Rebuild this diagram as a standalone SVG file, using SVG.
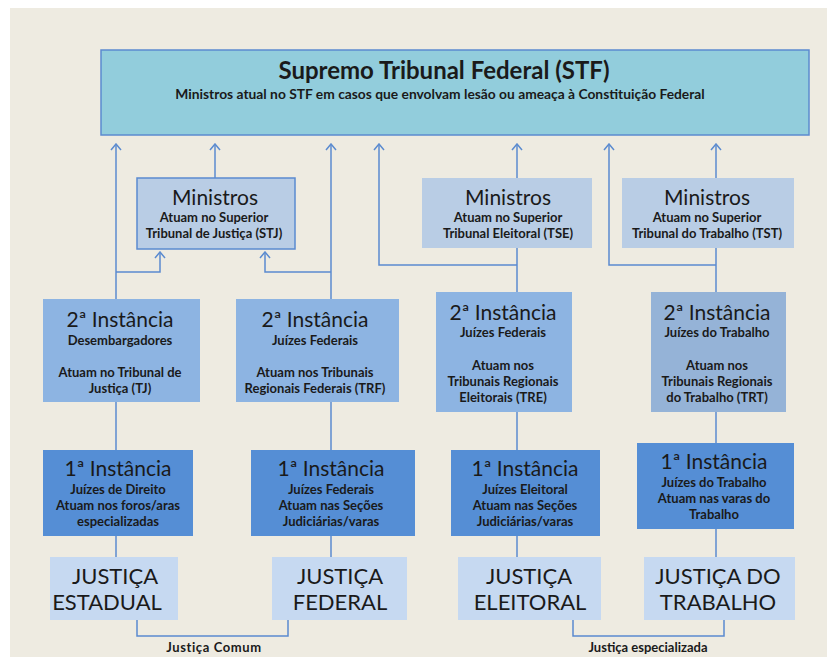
<svg xmlns="http://www.w3.org/2000/svg" width="827" height="657" viewBox="0 0 827 657">
  <defs>
    <marker id="arrow" viewBox="-7 -6 8 12" markerWidth="8" markerHeight="12" refX="0" refY="0" orient="auto" markerUnits="userSpaceOnUse">
      <path d="M-6,-5 L0,0 L-6,5" fill="none" stroke="#5B8BCF" stroke-width="1.5"/>
    </marker>
    <style>
      text { font-family: Lato, "Open Sans", "Liberation Sans", sans-serif; fill: #1a1a1a; text-anchor: middle; }
      .title { font-size: 24px; font-weight: bold; }
      .sub { font-size: 13.8px; font-weight: bold; }
      .head { font-size: 21px; }
      .big { font-size: 21px; }
      .jus { font-size: 22px; }
      .small { font-size: 13px; font-weight: bold; }
      .lbl { font-size: 13px; font-weight: bold; }
      .line { fill: none; stroke: #5B8BCF; stroke-width: 1.5; }
      .arr { marker-end: url(#arrow); }
      .stf { fill: #92CDDC; stroke: #5B8BCF; stroke-width: 1.5; }
      .min { fill: #B9CDE5; }
      .min-b { fill: #B9CDE5; stroke: #5B8BCF; stroke-width: 1.5; }
      .i2 { fill: #8DB4E2; }
      .i2g { fill: #95B3D7; }
      .i1 { fill: #558ED5; }
      .just { fill: #C6D9F1; }
    </style>
  </defs>

  <!-- page -->
  <rect x="0" y="0" width="827" height="657" fill="#ffffff"/>
  <rect x="10" y="8" width="817" height="649" fill="#EEEBE1"/>

  <!-- connectors -->
  <g id="connectors">
    <path class="line arr" d="M116,299 V144"/>
    <path class="line arr" d="M116,272 H160 V252"/>
    <path class="line arr" d="M331,299 V144"/>
    <path class="line arr" d="M331,272 H265 V252"/>
    <path class="line arr" d="M215,178 V144"/>
    <path class="line arr" d="M517,178 V144"/>
    <path class="line" d="M517,248 V292"/>
    <path class="line arr" d="M517,265 H379 V144"/>
    <path class="line arr" d="M716,178 V144"/>
    <path class="line" d="M716,248 V292"/>
    <path class="line arr" d="M716,265 H609 V144"/>
    <path class="line" d="M116,402 V450"/>
    <path class="line" d="M331,402 V450"/>
    <path class="line" d="M517,412 V450"/>
    <path class="line" d="M716,412 V443"/>
    <path class="line" d="M116,536 V557"/>
    <path class="line" d="M331,536 V557"/>
    <path class="line" d="M517,536 V557"/>
    <path class="line" d="M716,529 V557"/>
    <path class="line" d="M137,620 V636 H288 V620"/>
    <path class="line" d="M573,620 V636 H724 V620"/>
  </g>

  <!-- Supremo Tribunal Federal -->
  <g id="stf">
    <rect class="stf" x="101" y="50" width="708" height="85"/>
    <text class="title" x="444" y="79">Supremo Tribunal Federal (STF)</text>
    <text class="sub" x="440" y="99">Ministros atual no STF em casos que envolvam lesão ou ameaça à Constituição Federal</text>
  </g>

  <!-- Ministros -->
  <g id="min-stj">
    <rect class="min-b" x="137" y="178" width="158" height="71"/>
    <text class="head" x="215" y="205">Ministros</text>
    <text class="small" x="214" y="222">Atuam no Superior</text>
    <text class="small" x="214" y="238">Tribunal de Justiça (STJ)</text>
  </g>
  <g id="min-tse">
    <rect class="min" x="422" y="178" width="170" height="70"/>
    <text class="head" x="508" y="205">Ministros</text>
    <text class="small" x="508" y="222">Atuam no Superior</text>
    <text class="small" x="508" y="238">Tribunal Eleitoral (TSE)</text>
  </g>
  <g id="min-tst">
    <rect class="min" x="622" y="178" width="172" height="70"/>
    <text class="head" x="707" y="205">Ministros</text>
    <text class="small" x="707" y="222">Atuam no  Superior</text>
    <text class="small" x="707" y="238">Tribunal do Trabalho (TST)</text>
  </g>

  <!-- 2ª Instância -->
  <g id="i2-tj">
    <rect class="i2" x="43" y="299" width="157" height="103"/>
    <text class="big" x="120" y="327">2ª Instância</text>
    <text class="small" x="120" y="345">Desembargadores</text>
    <text class="small" x="120" y="377">Atuam no Tribunal de</text>
    <text class="small" x="120" y="393">Justiça (TJ)</text>
  </g>
  <g id="i2-trf">
    <rect class="i2" x="236" y="299" width="163" height="103"/>
    <text class="big" x="315" y="327">2ª Instância</text>
    <text class="small" x="315" y="345">Juízes Federais</text>
    <text class="small" x="315" y="377">Atuam nos Tribunais</text>
    <text class="small" x="315" y="393">Regionais Federais (TRF)</text>
  </g>
  <g id="i2-tre">
    <rect class="i2" x="436" y="292" width="136" height="120"/>
    <text class="big" x="503" y="320">2ª Instância</text>
    <text class="small" x="503" y="337">Juízes Federais</text>
    <text class="small" x="503" y="370">Atuam nos</text>
    <text class="small" x="503" y="386">Tribunais Regionais</text>
    <text class="small" x="503" y="402">Eleitorais (TRE)</text>
  </g>
  <g id="i2-trt">
    <rect class="i2g" x="651" y="292" width="135" height="120"/>
    <text class="big" x="717" y="320">2ª Instância</text>
    <text class="small" x="717" y="337">Juízes do Trabalho</text>
    <text class="small" x="717" y="370">Atuam nos</text>
    <text class="small" x="717" y="386">Tribunais Regionais</text>
    <text class="small" x="717" y="402">do Trabalho (TRT)</text>
  </g>

  <!-- 1ª Instância -->
  <g id="i1-est">
    <rect class="i1" x="43" y="450" width="150" height="86"/>
    <text class="big" x="118" y="476">1ª Instância</text>
    <text class="small" x="118" y="494">Juízes de Direito</text>
    <text class="small" x="118" y="510">Atuam nos foros/aras</text>
    <text class="small" x="118" y="526">especializadas</text>
  </g>
  <g id="i1-fed">
    <rect class="i1" x="251" y="450" width="164" height="86"/>
    <text class="big" x="331" y="476">1ª Instância</text>
    <text class="small" x="331" y="494">Juízes Federais</text>
    <text class="small" x="331" y="510">Atuam nas Seções</text>
    <text class="small" x="331" y="526">Judiciárias/varas</text>
  </g>
  <g id="i1-ele">
    <rect class="i1" x="451" y="450" width="149" height="86"/>
    <text class="big" x="525" y="476">1ª Instância</text>
    <text class="small" x="525" y="494">Juízes Eleitoral</text>
    <text class="small" x="525" y="510">Atuam nas Seções</text>
    <text class="small" x="525" y="526">Judiciárias/varas</text>
  </g>
  <g id="i1-trab">
    <rect class="i1" x="637" y="443" width="157" height="86"/>
    <text class="big" x="714" y="469">1ª Instância</text>
    <text class="small" x="714" y="487">Juízes do Trabalho</text>
    <text class="small" x="714" y="503">Atuam nas varas do</text>
    <text class="small" x="714" y="519">Trabalho</text>
  </g>

  <!-- Justiças -->
  <g id="j-estadual">
    <rect class="just" x="50" y="557" width="128" height="63"/>
    <text class="jus" x="115" y="584">JUSTIÇA</text>
    <text class="jus" x="107" y="610">ESTADUAL</text>
  </g>
  <g id="j-federal">
    <rect class="just" x="272" y="557" width="135" height="63"/>
    <text class="jus" x="340" y="584">JUSTIÇA</text>
    <text class="jus" x="340" y="610">FEDERAL</text>
  </g>
  <g id="j-eleitoral">
    <rect class="just" x="458" y="557" width="143" height="63"/>
    <text class="jus" x="529" y="584">JUSTIÇA</text>
    <text class="jus" x="530" y="610">ELEITORAL</text>
  </g>
  <g id="j-trabalho">
    <rect class="just" x="644" y="557" width="151" height="63"/>
    <text class="jus" x="718" y="584">JUSTIÇA DO</text>
    <text class="jus" x="718" y="610">TRABALHO</text>
  </g>

  <!-- group labels -->
  <g id="labels">
    <text class="lbl" x="214" y="652" letter-spacing="0.6">Justiça Comum</text>
    <text class="lbl" x="648" y="652">Justiça especializada</text>
  </g>
</svg>
